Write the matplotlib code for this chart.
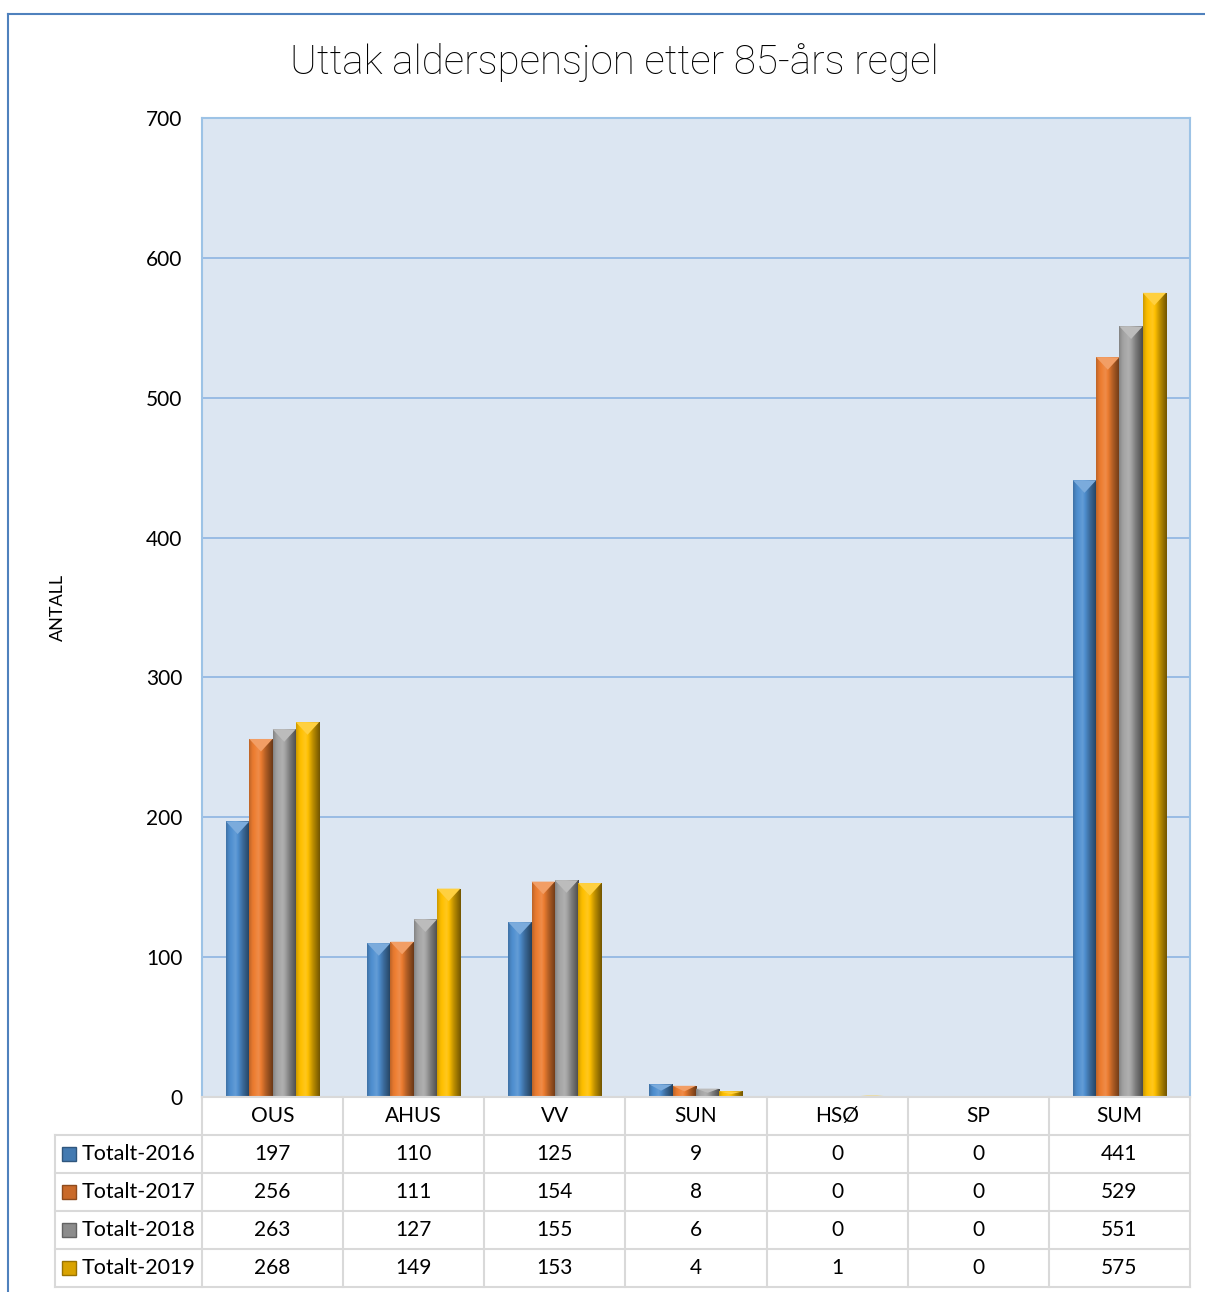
import numpy as np
import matplotlib.pyplot as plt
from matplotlib import colors
from matplotlib.patches import Polygon

categories = ["OUS", "AHUS", "VV", "SUN", "HSØ", "SP", "SUM"]
series = ["Totalt-2016", "Totalt-2017", "Totalt-2018", "Totalt-2019"]
v2016 = [197, 110, 125, 9, 0, 0, 441]
v2017 = [256, 111, 154, 8, 0, 0, 529]
v2018 = [263, 127, 155, 6, 0, 0, 551]
v2019 = [268, 149, 153, 4, 1, 0, 575]
values = [v2016, v2017, v2018, v2019]
yticks = [0, 100, 200, 300, 400, 500, 600, 700]
title = "Uttak alderspensjon etter 85-års regel"
ylabel = "ANTALL"

base_colors = ["#4f8fd0", "#ed7d31", "#a5a5a5", "#ffc000"]

plt.rcParams['font.family'] = ['Lato', 'DejaVu Sans']

W, H = 1205, 1292
fig = plt.figure(figsize=(W / 100, H / 100), dpi=100)

# outer frame lines (left and top)
fig.add_artist(plt.Line2D([8 / W, 8 / W], [0, 1 - 14 / H], color="#4f81bd", lw=1.5))
fig.add_artist(plt.Line2D([8 / W, 1], [1 - 14 / H, 1 - 14 / H], color="#4f81bd", lw=1.5))

ax = fig.add_axes([202 / W, 1 - 1097 / H, (1190 - 202) / W, (1097 - 118) / H])
ax.set_facecolor("#dce6f2")
for s in ax.spines.values():
    s.set_color("#9dc3e6")
    s.set_linewidth(1.5)
ax.spines['bottom'].set_visible(False)

n = len(series)
bw = 0.165
x = np.arange(len(categories))

def shade(c, f):
    r, g, b = colors.to_rgb(c)
    if f >= 1:
        return tuple(ch + (1 - ch) * (f - 1) for ch in (r, g, b))
    return tuple(ch * f for ch in (r, g, b))

prof_pos = np.array([0, 0.12, 0.4, 0.7, 1.0])
prof_fac = np.array([0.8, 0.95, 1.12, 0.75, 0.45])

for i, (vals, c) in enumerate(zip(values, base_colors)):
    xs = x + (i - (n - 1) / 2) * bw
    bars = ax.bar(xs, vals, width=bw, color=c, zorder=2, linewidth=0)
    t = np.linspace(0, 1, 48)
    fac = np.interp(t, prof_pos, prof_fac)
    grad = np.array([[shade(c, f) for f in fac]])
    for b, v in zip(bars, vals):
        if v <= 0:
            continue
        x0 = b.get_x()
        x1 = x0 + b.get_width()
        im = ax.imshow(grad, extent=(x0, x1, 0, v), aspect='auto', zorder=3,
                       interpolation='bilinear')
        im.set_clip_path(b)
        h = min(9, v * 0.5)
        cap = Polygon([(x0, v), (x1, v), ((x0 + x1) / 2, v - h)], closed=True,
                      facecolor=shade(c, 1.25), edgecolor='none', zorder=4)
        ax.add_patch(cap)

ax.set_xlim(-0.5, len(categories) - 0.5)
ax.set_ylim(0, 700)
ax.set_yticks(yticks)
ax.set_yticklabels([str(v) for v in yticks], fontsize=15)
ax.tick_params(axis='y', length=0, pad=14)
ax.set_xticks([])
ax.yaxis.grid(True, color="#8db4e2", lw=1.2, zorder=1)
ax.set_axisbelow(True)

fig.text(58 / W, 1 - 607 / H, ylabel, rotation=90, ha='center', va='center', fontsize=13)
fig.text(614 / W, 1 - 62 / H, title, ha='center', va='center', fontsize=29,
         family=['Roboto', 'DejaVu Sans'], fontweight='light')

# data table under the chart
cat_px = (1190 - 202) / len(categories)
xleft = -0.5 - (202 - 55) / cat_px
tax = fig.add_axes([55 / W, 1 - 1287 / H, (1190 - 55) / W, (1287 - 1097) / H])
tax.set_xlim(xleft, len(categories) - 0.5)
tax.set_ylim(5, 0)
tax.axis('off')
lc = "#d9d9d9"
tax.plot([-0.5, len(categories) - 0.5], [0, 0], color=lc, lw=1.5, clip_on=False)
for k in range(1, 6):
    tax.plot([xleft, len(categories) - 0.5], [k, k], color=lc, lw=1.5, clip_on=False)
for j in range(len(categories) + 1):
    tax.plot([j - 0.5, j - 0.5], [0, 5], color=lc, lw=1.5, clip_on=False)
tax.plot([xleft, xleft], [1, 5], color=lc, lw=1.5, clip_on=False)

for j, cat in enumerate(categories):
    tax.text(j, 0.5, cat, ha='center', va='center', fontsize=15)
for i, (name, vals, c) in enumerate(zip(series, values, base_colors)):
    tax.plot(xleft + 0.1, i + 1.5, marker='s', markersize=10, color=shade(c, 0.85),
             markeredgecolor=shade(c, 0.6), markeredgewidth=1, clip_on=False)
    tax.text(xleft + 0.19, i + 1.5, name, ha='left', va='center', fontsize=15.5)
    for j, v in enumerate(vals):
        tax.text(j, i + 1.5, str(v), ha='center', va='center', fontsize=15)

fig.savefig("out.png", dpi=100)
